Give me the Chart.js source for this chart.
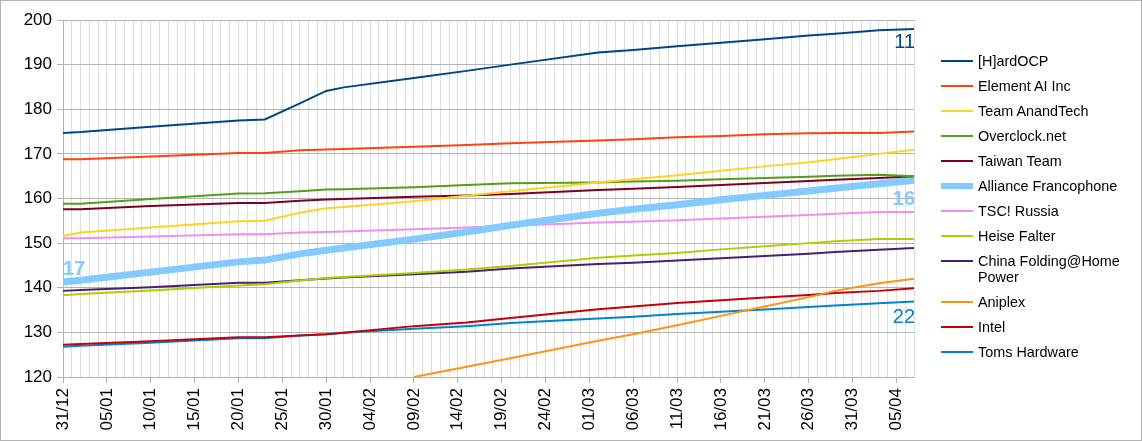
<!DOCTYPE html>
<html>
<head>
<meta charset="utf-8">
<script src="https://cdn.jsdelivr.net/npm/chart.js@4.4.1/dist/chart.umd.min.js"></script>
<style>
  html, body { margin: 0; padding: 0; background: #fff; }
  #wrap { position: relative; width: 1142px; height: 441px; box-sizing: border-box; border: 1px solid #b3b3b3; }
  #chart { position: absolute; left: 0; top: 0; }
  #legend { position: absolute; left: 940px; top: 52px; font-family: "Liberation Sans", Arial, sans-serif; font-size: 14.4px; color: #000; }
  .item { display: flex; align-items: flex-start; padding-bottom: 9px; line-height: 16px; }
  .swatch { width: 32px; margin-right: 5px; margin-top: 8px; flex: none; }
  .txt { width: 150px; }
</style>
</head>
<body>
<div id="wrap">
  <canvas id="chart" width="1140" height="439"></canvas>
  <div id="legend"></div>
</div>
<script>
// sample dates (dd/mm)
const sampleDates = ['31/12', '02/01', '10/01', '20/01', '23/01', '27/01', '30/01', '01/02', '09/02', '15/02',
                     '20/02', '02/03', '06/03', '11/03', '16/03', '21/03', '26/03', '29/03', '03/04', '07/04'];

const hardocp   = [174.7, 174.9, 176.1, 177.5, 177.7, 181.3, 184.1, 184.9, 187.0, 188.6, 190.0, 192.7, 193.3, 194.1, 194.9, 195.7, 196.5, 196.9, 197.7, 198.0];
const elementAI = [168.8, 168.8, 169.4, 170.2, 170.2, 170.8, 171.0, 171.1, 171.6, 172.0, 172.4, 173.0, 173.3, 173.7, 174.0, 174.4, 174.6, 174.7, 174.7, 175.0];
const anandtech = [151.6, 152.4, 153.5, 154.9, 155.0, 156.8, 157.8, 158.1, 159.4, 160.6, 161.6, 163.6, 164.3, 165.2, 166.2, 167.2, 168.1, 168.8, 170.0, 170.9];
const overclock = [158.8, 158.8, 159.9, 161.1, 161.2, 161.6, 162.0, 162.1, 162.5, 163.0, 163.4, 163.6, 163.8, 164.0, 164.3, 164.6, 164.9, 165.1, 165.3, 165.0];
const taiwan    = [157.6, 157.6, 158.3, 159.0, 159.0, 159.5, 159.8, 159.9, 160.4, 160.7, 161.0, 161.9, 162.2, 162.6, 163.0, 163.5, 163.9, 164.2, 164.6, 165.0];
const alliance  = [141.3, 141.7, 143.5, 145.8, 146.2, 147.6, 148.4, 148.9, 150.9, 152.5, 154.0, 156.7, 157.6, 158.6, 159.7, 160.7, 161.7, 162.3, 163.3, 164.1];
const tscRussia = [151.1, 151.1, 151.5, 152.0, 152.0, 152.4, 152.5, 152.6, 153.1, 153.5, 153.9, 154.6, 154.8, 155.1, 155.5, 155.9, 156.3, 156.6, 157.0, 157.0];
const heise     = [138.3, 138.6, 139.4, 140.5, 140.8, 141.6, 142.2, 142.4, 143.3, 144.1, 144.9, 146.7, 147.2, 147.8, 148.6, 149.3, 150.0, 150.4, 150.9, 150.9];
const chinaFah  = [139.3, 139.5, 140.1, 141.1, 141.1, 141.7, 142.1, 142.3, 143.0, 143.6, 144.3, 145.3, 145.6, 146.1, 146.6, 147.1, 147.6, 148.0, 148.5, 148.9];
const aniplex   = [null, null, null, null, null, null, null, null, 120.0, 122.3, 124.2, 128.1, 129.6, 131.6, 133.7, 135.8, 137.9, 139.3, 141.0, 142.0];
const intel     = [127.2, 127.4, 128.0, 128.9, 128.9, 129.3, 129.6, 129.9, 131.4, 132.2, 133.2, 135.2, 135.8, 136.6, 137.2, 137.8, 138.4, 138.8, 139.3, 139.9];
const toms      = [126.8, 127.0, 127.7, 128.7, 128.7, 129.3, 129.6, 129.9, 130.8, 131.4, 132.1, 133.1, 133.5, 134.1, 134.6, 135.1, 135.7, 136.0, 136.5, 136.9];

const teamNames = ['[H]ardOCP', 'Element AI Inc', 'Team AnandTech', 'Overclock.net', 'Taiwan Team', 'Alliance Francophone',
                   'TSC! Russia', 'Heise Falter', 'China Folding@Home Power', 'Aniplex', 'Intel', 'Toms Hardware'];
const teamValues = [hardocp, elementAI, anandtech, overclock, taiwan, alliance, tscRussia, heise, chinaFah, aniplex, intel, toms];
const teamColors = ['#004586', '#ff420e', '#ffd320', '#579d1c', '#7e0021', '#83caff',
                    '#f08ef0', '#aecf00', '#4b1f6f', '#ff950e', '#c5000b', '#0084d1'];

// rank labels: [dataset, sample index, text, dy, bold, align]
const rankLabels = [
    [0, 19, '11', 19, false, 'right'],
    [5, 19, '16', 25, true, 'right'],
    [5, 0, '17', -7, true, 'left'],
    [11, 19, '22', 21, false, 'right']
];

// day categories 31/12 .. 07/04
const monthDays = [[1, 31], [2, 28], [3, 31], [4, 7]];
const dayLabels = ['31/12'];
monthDays.forEach(([m, n]) => {
    for (let d = 1; d <= n; d++) {
        dayLabels.push(String(d).padStart(2, '0') + '/' + String(m).padStart(2, '0'));
    }
});

const datasets = teamNames.map((name, i) => ({
    label: name,
    data: sampleDates.map((d, j) => ({x: d, y: teamValues[i][j]})).filter(p => p.y !== null),
    borderColor: teamColors[i],
    backgroundColor: teamColors[i],
    borderWidth: i === 5 ? 7 : 2,
    pointRadius: 0,
    tension: 0,
    fill: false
}));

const rankPlugin = {
    id: 'rankLabels',
    afterDatasetsDraw(chart) {
        const ctx = chart.ctx;
        const area = chart.chartArea;
        ctx.save();
        ctx.beginPath();
        ctx.rect(area.left, area.top, area.right - area.left, area.bottom - area.top);
        ctx.clip();
        rankLabels.forEach(([ds, idx, text, dy, bold, align]) => {
            const pt = chart.getDatasetMeta(ds).data[idx];
            ctx.font = (bold ? 'bold ' : '') + '20px "Liberation Sans", Arial, sans-serif';
            ctx.fillStyle = teamColors[ds];
            ctx.textAlign = align;
            ctx.textBaseline = 'alphabetic';
            ctx.fillText(text, pt.x + (align === 'right' ? 1 : 0), pt.y + dy);
        });
        ctx.restore();
    }
};

new Chart(document.getElementById('chart'), {
    type: 'line',
    data: {
        labels: dayLabels,
        datasets: datasets
    },
    plugins: [rankPlugin],
    options: {
        responsive: false,
        animation: false,
        layout: {
            padding: {left: 0, top: 19, right: 227, bottom: 0}
        },
        plugins: {
            legend: {display: false},
            tooltip: {enabled: false}
        },
        scales: {
            x: {
                type: 'category',
                offset: false,
                afterFit: (scale) => { scale.height = 63; },
                grid: {
                    color: '#dddddd',
                    tickLength: 6,
                    tickColor: (c) => (c.index % 5 === 0 ? '#b3b3b3' : 'rgba(0,0,0,0)')
                },
                border: {color: '#b3b3b3'},
                ticks: {
                    autoSkip: false,
                    minRotation: 90,
                    maxRotation: 90,
                    padding: 5,
                    color: '#000',
                    font: {family: '"Liberation Sans", Arial, sans-serif', size: 17},
                    callback: function (value, index) {
                        return index % 5 === 0 ? this.getLabelForValue(value) : '';
                    }
                }
            },
            y: {
                min: 120,
                max: 200,
                afterFit: (scale) => { scale.width = 62; },
                grid: {
                    tickLength: 6,
                    color: (c) => (c.tick.value % 10 === 0 ? '#b3b3b3' : '#dddddd'),
                    tickColor: (c) => (c.tick.value % 10 === 0 ? '#b3b3b3' : 'rgba(0,0,0,0)')
                },
                border: {color: '#b3b3b3'},
                ticks: {
                    stepSize: 5,
                    padding: 5,
                    color: '#000',
                    font: {family: '"Liberation Sans", Arial, sans-serif', size: 17},
                    callback: (v) => (v % 10 === 0 ? v : '')
                }
            }
        }
    }
});

// legend built from the same names/colours
const legend = document.getElementById('legend');
teamNames.forEach((name, i) => {
    const item = document.createElement('div');
    item.className = 'item';
    const sw = document.createElement('div');
    sw.className = 'swatch';
    const h = i === 5 ? 6 : 2;
    sw.style.height = h + 'px';
    sw.style.marginTop = (8 - h / 2) + 'px';
    sw.style.background = teamColors[i];
    const t = document.createElement('div');
    t.className = 'txt';
    t.textContent = name;
    item.appendChild(sw);
    item.appendChild(t);
    legend.appendChild(item);
});
</script>
</body>
</html>
